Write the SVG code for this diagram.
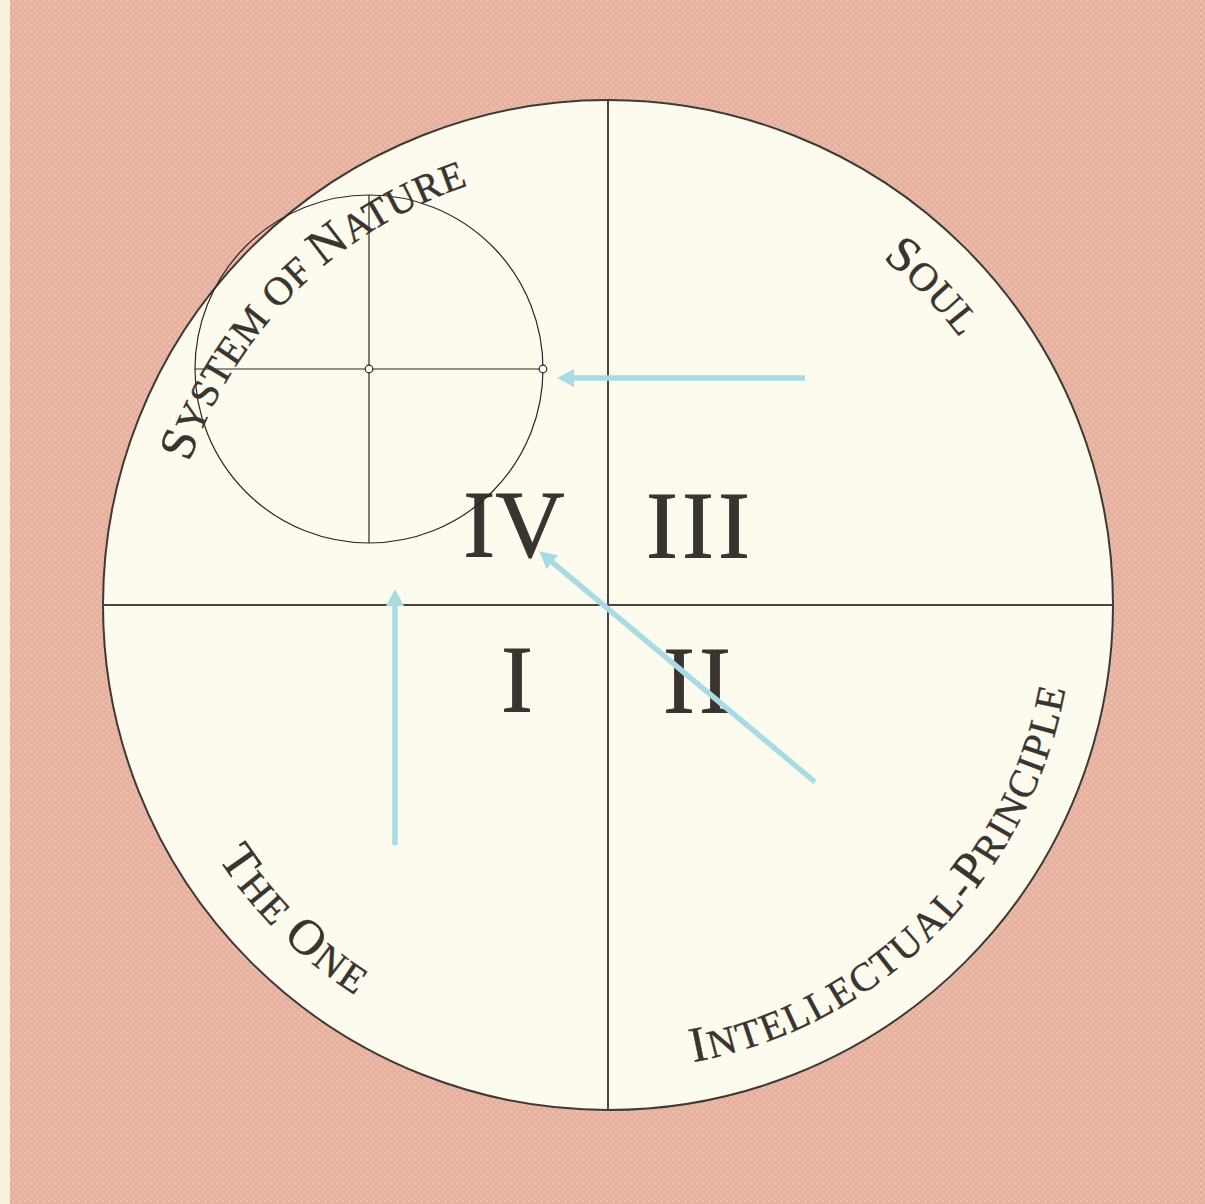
<svg xmlns="http://www.w3.org/2000/svg" width="1205" height="1204" viewBox="0 0 1205 1204">
  <style>
    .ln { stroke: #4a4541; stroke-width: 2; fill: none; }
    .thin { stroke: #2a2725; stroke-width: 1.2; fill: none; }
    .num { font-family: "Liberation Serif", "Times New Roman", serif; font-size: 96px; fill: #3a3430; text-anchor: middle; stroke: #3a3430; stroke-width: 0.8; }
    .lab { font-family: "Liberation Serif", "Times New Roman", serif; fill: #3a3430; stroke: #3a3430; stroke-width: 0.4; }
    .cap { font-size: 50px; }
    .sc { font-size: 40px; }
    .arrow { stroke: #a9dbe3; stroke-width: 5.5; fill: none; marker-end: url(#ah); }
  </style>
  <defs>
    <pattern id="tex" width="6" height="6" patternUnits="userSpaceOnUse">
      <rect width="6" height="6" fill="#e6b09e"/>
      <circle cx="1.5" cy="1.5" r="1.2" fill="#efc3b2"/>
      <circle cx="4.5" cy="4.5" r="1.2" fill="#eebfae"/>
    </pattern>
    <marker id="ah" markerUnits="userSpaceOnUse" markerWidth="17" markerHeight="18" viewBox="0 0 17 18" refX="1" refY="9" orient="auto">
      <path d="M0,0 L17,9 L0,18 z" fill="#a9dbe3"/>
    </marker>
    <path id="topArc" d="M 166,605 A 442 442 0 1 1 1050,605 A 442 442 0 1 1 166,605"/>
    <path id="botArc" d="M 143,605 A 465 465 0 1 0 1073,605 A 465 465 0 1 0 143,605"/>
  </defs>

  <rect width="1205" height="1204" fill="url(#tex)"/>
  <rect x="0" y="0" width="10" height="1204" fill="#f6f1df"/>

  <g id="main-circle">
    <circle cx="608" cy="605" r="505" fill="#fdfbee" stroke="#3e3a37" stroke-width="2"/>
    <line class="ln" x1="608" y1="100" x2="608" y2="1110"/>
    <line class="ln" x1="103" y1="605" x2="1113" y2="605"/>
  </g>

  <g id="quadrant-numerals">
    <text class="num" x="514" y="557">IV</text>
    <text class="num" x="700" y="558" letter-spacing="4">III</text>
    <text class="num" x="517" y="712">I</text>
    <text class="num" x="699" y="713" letter-spacing="4">II</text>
  </g>

  <g id="system-of-nature-circle">
    <circle class="thin" cx="369" cy="369" r="174"/>
    <line class="thin" x1="195" y1="369" x2="543" y2="369"/>
    <line class="thin" x1="369" y1="195" x2="369" y2="543"/>
    <circle cx="369" cy="369" r="3.8" fill="#ffffff" stroke="#2a2725" stroke-width="1.2"/>
    <circle cx="543" cy="369" r="3.8" fill="#ffffff" stroke="#2a2725" stroke-width="1.2"/>
  </g>

  <g id="label-system-of-nature">
    <text class="lab" letter-spacing="0.5"><textPath href="#topArc" startOffset="145"><tspan class="cap">S</tspan><tspan class="sc">YSTEM OF </tspan><tspan class="cap">N</tspan><tspan class="sc">ATURE</tspan></textPath></text>
  </g>
  <g id="label-soul">
    <text class="lab" letter-spacing="0.5"><textPath href="#topArc" startOffset="990"><tspan class="cap">S</tspan><tspan class="sc">OUL</tspan></textPath></text>
  </g>
  <g id="label-the-one">
    <text class="lab" letter-spacing="2"><textPath href="#botArc" startOffset="268"><tspan class="cap">T</tspan><tspan class="sc">HE </tspan><tspan class="cap">O</tspan><tspan class="sc">NE</tspan></textPath></text>
  </g>
  <g id="label-intellectual-principle">
    <text class="lab" letter-spacing="1.8"><textPath href="#botArc" startOffset="816"><tspan class="cap">I</tspan><tspan class="sc">NTELLECTUAL-</tspan><tspan class="cap">P</tspan><tspan class="sc">RINCIPLE</tspan></textPath></text>
  </g>

  <g id="connectors">
    <line class="arrow" x1="805" y1="378" x2="573" y2="378"/>
    <line class="arrow" x1="395" y1="845" x2="395" y2="605"/>
    <line class="arrow" x1="815" y1="782" x2="551.5" y2="561.6"/>
  </g>
</svg>
